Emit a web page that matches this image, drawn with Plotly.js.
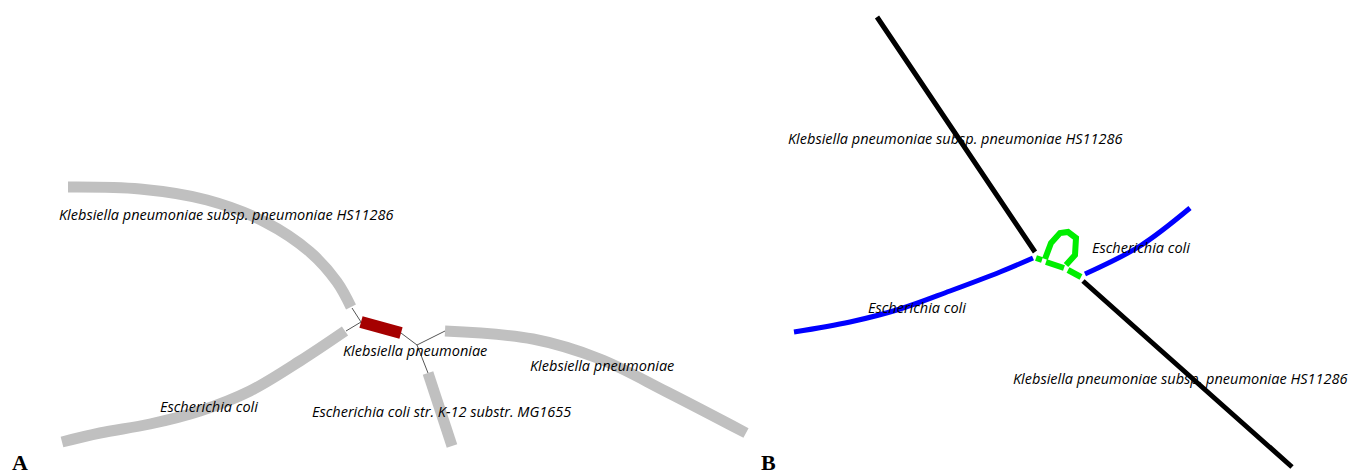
<!DOCTYPE html>
<html><head><meta charset="utf-8">
<script src="https://cdn.plot.ly/plotly-3.0.1.min.js"></script>
<style>html,body{margin:0;padding:0;background:#fff}#c{width:1352px;height:474px}</style>
</head><body><div id="c"></div>
<script>
// ---- Panel A: nodes (gray contigs, red hub) ----
const aHS_x = [68,140,207,265,310,337,351];
const aHS_y = [187,189,200,222,252,282,307];
const aEcoli_x = [62,100,150,200,250,300,345];
const aEcoli_y = [442,433,424,411,391,361,331];
const aKpn_x = [445,533,600,667,746];
const aKpn_y = [331,339,359,392,433];
const aMG_x = [428,452];
const aMG_y = [373,446];
const aHub_x = [361,401];
const aHub_y = [322,333];
// thin edges in A (pairs)
const aEdges_x = [[352,361],[346,361],[401,417],[417,445],[417,428]];
const aEdges_y = [[308,322],[331,322],[333,345],[345,331],[345,373]];
// ---- Panel B ----
const bHS1_x = [877,953,1035];
const bHS1_y = [17,130,252];
const bHS2_x = [1083,1157,1292];
const bHS2_y = [281,347,467];
const bEco1_x = [794,850,900,950,1000,1033];
const bEco1_y = [332,322,309,291,272,258];
const bEco2_x = [1085,1140,1190];
const bEco2_y = [274,246,208];
const bGreenA_x = [1036,1042];
const bGreenA_y = [258,260];
const bGreenB_x = [1046,1064];
const bGreenB_y = [262,268];
const bGreenC_x = [1068,1081];
const bGreenC_y = [270,277];
const bLoop_x = [1045,1051,1060,1068,1076,1075,1066];
const bLoop_y = [259,243,233,232,238,255,265];
// labels
const labels = [
  {t:"Klebsiella pneumoniae subsp. pneumoniae HS11286", x:226, y:214, a:'center'},
  {t:"Klebsiella pneumoniae", x:415, y:350, a:'center'},
  {t:"Escherichia coli str. K-12 substr. MG1655", x:441, y:411, a:'center'},
  {t:"Klebsiella pneumoniae", x:602, y:365, a:'center'},
  {t:"Escherichia coli", x:209, y:406, a:'center'},
  {t:"Klebsiella pneumoniae subsp. pneumoniae HS11286", x:955, y:138, a:'center'},
  {t:"Escherichia coli", x:1141, y:247, a:'center'},
  {t:"Escherichia coli", x:917, y:307, a:'center'},
  {t:"Klebsiella pneumoniae subsp. pneumoniae HS11286", x:1350, y:378, a:'right'}
];
const panelLetters = [{t:"A", x:20, y:462},{t:"B", x:768, y:462}];

const traces = [];
function line(x,y,color,width,spline){
  traces.push({type:'scatter',mode:'lines',x:x,y:y,hoverinfo:'skip',showlegend:false,
    line:{color:color,width:width,shape:spline?'spline':'linear',smoothing:1}});
}
aEdges_x.forEach((ex,i)=>line(ex,aEdges_y[i],'#555',1,false));
line(aHS_x,aHS_y,'#c0c0c0',11,true);
line(aEcoli_x,aEcoli_y,'#c0c0c0',11,true);
line(aKpn_x,aKpn_y,'#c0c0c0',11,true);
line(aMG_x,aMG_y,'#c0c0c0',11,false);
line(aHub_x,aHub_y,'#a50000',12,false);

line(bHS1_x,bHS1_y,'#000',5,true);
line(bHS2_x,bHS2_y,'#000',5,true);
line(bEco1_x,bEco1_y,'#0000ff',5,true);
line(bEco2_x,bEco2_y,'#0000ff',5,true);
line(bGreenA_x,bGreenA_y,'#00ee00',6,false);
line(bGreenB_x,bGreenB_y,'#00ee00',6,false);
line(bGreenC_x,bGreenC_y,'#00ee00',6,false);
line(bLoop_x,bLoop_y,'#00ee00',6,false);

const annotations = labels.map(l=>({x:l.x,y:l.y,xref:'x',yref:'y',text:'<i>'+l.t+'</i>',showarrow:false,
  font:{family:'Open Sans',size:14.5,color:'#000'},xanchor:l.a,yanchor:'middle'}))
 .concat(panelLetters.map(l=>({x:l.x,y:l.y,xref:'x',yref:'y',text:'<b>'+l.t+'</b>',showarrow:false,
  font:{family:'Liberation Serif',size:22,color:'#000'},xanchor:'center',yanchor:'middle'})));

Plotly.newPlot('c',traces,{
  width:1352,height:474,margin:{l:0,r:0,t:0,b:0},
  paper_bgcolor:'#fff',plot_bgcolor:'#fff',
  xaxis:{range:[0,1352],visible:false,fixedrange:true},
  yaxis:{range:[474,0],visible:false,fixedrange:true},
  annotations:annotations,showlegend:false
},{displayModeBar:false,staticPlot:true});
</script></body></html>
